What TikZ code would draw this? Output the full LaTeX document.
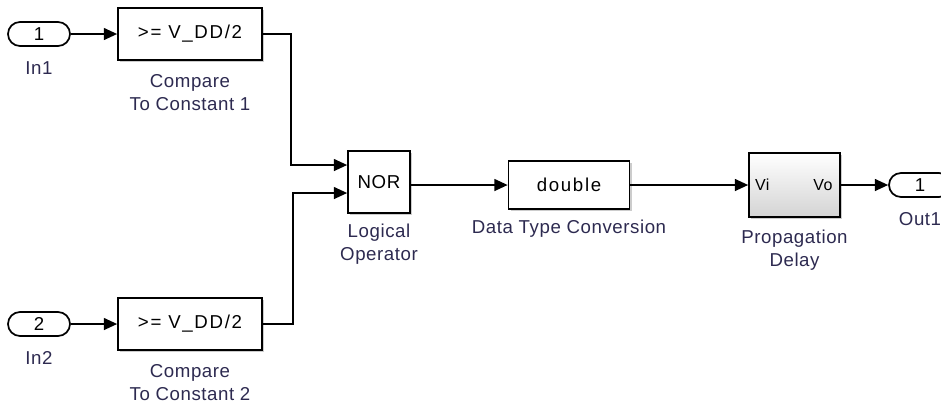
\documentclass[tikz,border=0pt]{standalone}
\usepackage{fontspec}
\setmainfont{Liberation Sans}[LetterSpace=3]
\newfontfamily\spacedfont[LetterSpace=9]{Liberation Sans}
\usetikzlibrary{positioning,shadows,arrows.meta}
\definecolor{namecol}{RGB}{45,42,80}
\tikzset{
  blk/.style={draw, line width=1.3pt, fill=white,
    drop shadow={shadow xshift=1.5pt, shadow yshift=-1.5pt, fill=black!40, opacity=0.5}},
  inport/.style={draw, line width=1.3pt, fill=white, rounded corners=9pt,
    minimum width=46.5pt, minimum height=18pt, inner sep=0pt},
  blkname/.style={align=center, inner sep=0pt, text=namecol},
  sig/.style={line width=1.1pt, -{Triangle[length=10pt, width=9pt]}},
}

\begin{document}
\begin{tikzpicture}[x=0.75pt, y=-0.75pt, font=\fontsize{14}{17}\selectfont]
    \clip (0,0) rectangle (941,405);
    % two inputs, each compared to V_DD/2
    \foreach \i/\y in {1/34, 2/324} {
      \node[inport] (in\i) at (39,\y) {\i};
      \node[blkname, below=11pt of in\i] (in\i-name) {In\i};
      \node[blk, minimum width=108pt, minimum height=39pt] (cmp\i) at (190,\y) {\spacedfont >= V\_DD/2};
      \node[blkname, below=10pt of cmp\i] (cmp\i-name) {Compare\\To Constant \i};
      \draw[sig] (in\i.east) -- (cmp\i.west);
    }
    \node[blk, minimum width=46.5pt, minimum height=46.5pt] (nor) at (379,182) {NOR};
    \node[blkname, below=7.5pt of nor] (nor-name) {Logical\\Operator};
    \coordinate (nor-a) at ([yshift=12.75pt]nor.west);
    \coordinate (nor-b) at ([yshift=-8.25pt]nor.west);
    \draw[sig] (cmp1.east) -- ++(28,0) |- (nor-a);
    \draw[sig] (cmp2.east) -- ++(30,0) |- (nor-b);
    \node[blk, minimum width=90.75pt, minimum height=36pt] (dbl) at (569,185) {\spacedfont double};
    \node[blkname, below=7.5pt of dbl] (dbl-name) {Data Type Conversion};
    \draw[sig] (nor.east |- dbl.west) -- (dbl.west);
    \node[blk, top color=white, bottom color=black!17, minimum width=68.25pt, minimum height=48pt] (pd) at (794.5,185) {};
    \node[anchor=west, inner sep=0pt, font=\fontsize{12}{14}\selectfont] (pd-vi) at ([xshift=5pt]pd.west) {Vi};
    \node[anchor=east, inner sep=0pt, font=\fontsize{12}{14}\selectfont] (pd-vo) at ([xshift=-6pt]pd.east) {Vo};
    \node[blkname, below=9pt of pd] (pd-name) {Propagation\\Delay};
    \draw[sig] (dbl.east) -- (pd.west);
    \node[inport] (out1) at (920,185) {1};
    \node[blkname, below=10.5pt of out1] (out1-name) {Out1};
    \draw[sig] (pd.east) -- (out1.west);
  \end{tikzpicture}
\end{document}
